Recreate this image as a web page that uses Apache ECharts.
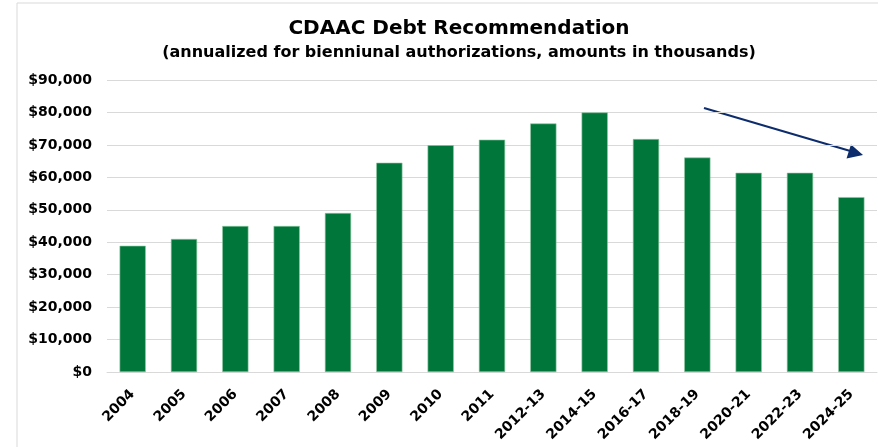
<!DOCTYPE html>
<html><head><meta charset="utf-8">
<script src="https://cdn.jsdelivr.net/npm/echarts@6/dist/echarts.min.js"></script>
<style>html,body{margin:0;padding:0;background:#fff}#c{width:878px;height:447px}</style>
</head><body><div id="c"></div>
<script>
const categories = ['2004','2005','2006','2007','2008','2009','2010','2011','2012-13','2014-15','2016-17','2018-19','2020-21','2022-23','2024-25'];
const debtValues = [38900, 41000, 45000, 45000, 49000, 64500, 69900, 71600, 76600, 80000, 71800, 66100, 61400, 61400, 53900];
const yTicks = [0, 10000, 20000, 30000, 40000, 50000, 60000, 70000, 80000, 90000];

const FONT = '"DejaVu Sans", sans-serif';
const chart = echarts.init(document.getElementById('c'), null, {renderer: 'canvas'});
chart.setOption({
  animation: false,
  backgroundColor: '#fff',
  title: {
    text: 'CDAAC Debt Recommendation',
    subtext: '(annualized for bienniunal authorizations, amounts in thousands)',
    left: 454, textAlign: 'center', top: 14, itemGap: 6,
    textStyle: {fontFamily: FONT, fontWeight: 'bold', fontSize: 20, color: '#000'},
    subtextStyle: {fontFamily: FONT, fontWeight: 'bold', fontSize: 16, color: '#000'}
  },
  grid: {left: 107, right: 1, top: 80, bottom: 75, containLabel: false},
  xAxis: {
    type: 'category', data: categories,
    axisLine: {lineStyle: {color: '#d9d9d9', width: 1}},
    axisTick: {show: false},
    axisLabel: {rotate: 45, interval: 0, margin: 20, fontFamily: FONT, fontWeight: 'bold', fontSize: 14, color: '#000'}
  },
  yAxis: {
    type: 'value', min: yTicks[0], max: yTicks[yTicks.length - 1], interval: yTicks[1] - yTicks[0],
    axisLine: {show: false}, axisTick: {show: false},
    splitLine: {lineStyle: {color: '#d9d9d9', width: 1}},
    axisLabel: {margin: 15, fontFamily: FONT, fontWeight: 'bold', fontSize: 14, color: '#000',
      formatter: v => '$' + v.toLocaleString('en-US')}
  },
  series: [{
    type: 'bar', data: debtValues, barWidth: '51%',
    itemStyle: {color: '#00763A', borderColor: '#8cc7a0', borderWidth: 0.6}
  }],
  graphic: [
    {type: 'rect', shape: {x: 17, y: 3, width: 900, height: 460}, style: {fill: 'none', stroke: '#d9d9d9', lineWidth: 1}, silent: true},
    {type: 'line', shape: {x1: 704, y1: 108, x2: 852, y2: 151.5}, style: {stroke: '#0D2C6C', lineWidth: 2}},
    {type: 'polygon', shape: {points: [[863, 155], [846.5, 158.5], [851, 144.5]]}, style: {fill: '#0D2C6C'}}
  ]
});
</script></body></html>
